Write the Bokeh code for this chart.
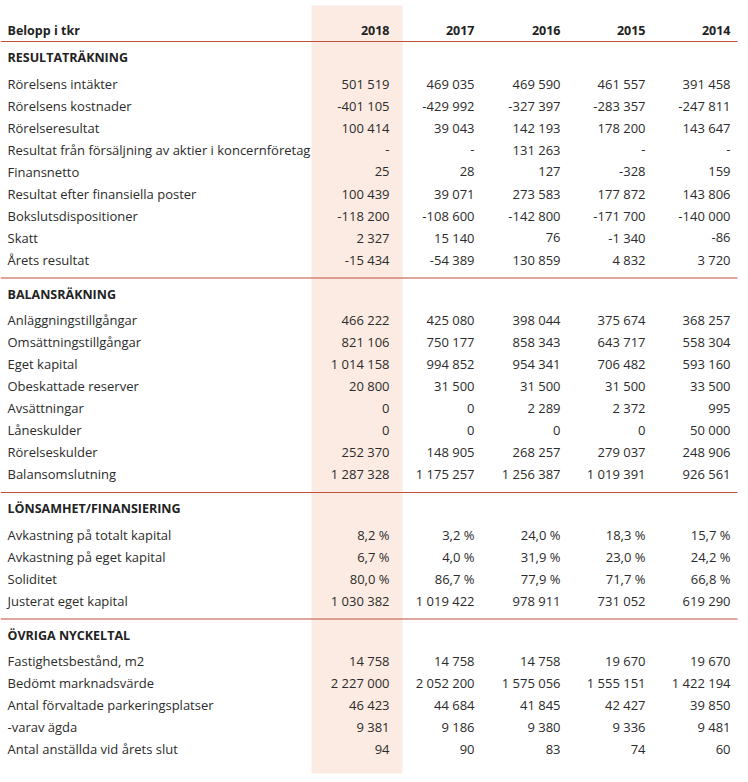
from bokeh.plotting import figure
from bokeh.models import Range1d
from bokeh.core.properties import value
from bokeh.embed import file_html
from bokeh.resources import INLINE

years = ["2018", "2017", "2016", "2015", "2014"]
header_label = "Belopp i tkr"

sec1_title = "RESULTATRÄKNING"
sec1_labels = ["Rörelsens intäkter", "Rörelsens kostnader", "Rörelseresultat",
               "Resultat från försäljning av aktier i koncernföretag", "Finansnetto",
               "Resultat efter finansiella poster", "Bokslutsdispositioner", "Skatt",
               "Årets resultat"]
sec1_2018 = [501519, -401105, 100414, None, 25, 100439, -118200, 2327, -15434]
sec1_2017 = [469035, -429992, 39043, None, 28, 39071, -108600, 15140, -54389]
sec1_2016 = [469590, -327397, 142193, 131263, 127, 273583, -142800, 76, 130859]
sec1_2015 = [461557, -283357, 178200, None, -328, 177872, -171700, -1340, 4832]
sec1_2014 = [391458, -247811, 143647, None, 159, 143806, -140000, -86, 3720]

sec2_title = "BALANSRÄKNING"
sec2_labels = ["Anläggningstillgångar", "Omsättningstillgångar", "Eget kapital",
               "Obeskattade reserver", "Avsättningar", "Låneskulder", "Rörelseskulder",
               "Balansomslutning"]
sec2_2018 = [466222, 821106, 1014158, 20800, 0, 0, 252370, 1287328]
sec2_2017 = [425080, 750177, 994852, 31500, 0, 0, 148905, 1175257]
sec2_2016 = [398044, 858343, 954341, 31500, 2289, 0, 268257, 1256387]
sec2_2015 = [375674, 643717, 706482, 31500, 2372, 0, 279037, 1019391]
sec2_2014 = [368257, 558304, 593160, 33500, 995, 50000, 248906, 926561]

sec3_title = "LÖNSAMHET/FINANSIERING"
sec3_labels = ["Avkastning på totalt kapital", "Avkastning på eget kapital", "Soliditet",
               "Justerat eget kapital"]
sec3_is_pct = [True, True, True, False]
sec3_2018 = [8.2, 6.7, 80.0, 1030382]
sec3_2017 = [3.2, 4.0, 86.7, 1019422]
sec3_2016 = [24.0, 31.9, 77.9, 978911]
sec3_2015 = [18.3, 23.0, 71.7, 731052]
sec3_2014 = [15.7, 24.2, 66.8, 619290]

sec4_title = "ÖVRIGA NYCKELTAL"
sec4_labels = ["Fastighetsbestånd, m2", "Bedömt marknadsvärde",
               "Antal förvaltade parkeringsplatser", "-varav ägda",
               "Antal anställda vid årets slut"]
sec4_2018 = [14758, 2227000, 46423, 9381, 94]
sec4_2017 = [14758, 2052200, 44684, 9186, 90]
sec4_2016 = [14758, 1575056, 41845, 9380, 83]
sec4_2015 = [19670, 1555151, 42427, 9336, 74]
sec4_2014 = [19670, 1422194, 39850, 9481, 60]


def fmt(v, pct=False):
    if v is None:
        return "-"
    if pct:
        return f"{v:.1f}".replace(".", ",") + " %"
    s = f"{abs(int(v)):,}".replace(",", " ")
    return ("-" if v < 0 else "") + s


sections = [
    (sec1_title, sec1_labels, [sec1_2018, sec1_2017, sec1_2016, sec1_2015, sec1_2014], [False] * 9),
    (sec2_title, sec2_labels, [sec2_2018, sec2_2017, sec2_2016, sec2_2015, sec2_2014], [False] * 8),
    (sec3_title, sec3_labels, [sec3_2018, sec3_2017, sec3_2016, sec3_2015, sec3_2014], sec3_is_pct),
    (sec4_title, sec4_labels, [sec4_2018, sec4_2017, sec4_2016, sec4_2015, sec4_2014], [False] * 5),
]

# layout (pixel coordinates)
W, H = 740, 774
X0, Y0 = 0, 0
label_x = 7
col_right = [389, 474, 560, 645, 730]
header_y = 30
row_step = 22
line_x0, line_x1 = 0, 737
FONT = "Open Sans"
TXT = "#2b2b2b"
RED = "#c0503a"
SHADE = "#fcebe2"

p = figure(width=W, height=H, output_backend="svg", toolbar_location=None,
           x_range=Range1d(X0, X0 + W), y_range=Range1d(Y0 + H, Y0),
           min_border=0, outline_line_color=None)
p.axis.visible = False
p.grid.visible = False
p.background_fill_color = "white"
p.border_fill_color = "white"

# highlighted 2018 column
p.quad(left=[311], right=[402], top=[5], bottom=[773], fill_color=SHADE, line_color=None)

lab_x, lab_y, lab_t = [], [], []
tit_x, tit_y, tit_t = [], [], []
num_x, num_y, num_t = [], [], []
line_ys = []

# header
tit_x.append(label_x); tit_y.append(header_y); tit_t.append(header_label)
hdr_x = list(col_right)
hdr_y = [header_y] * len(years)
line_y = 41
line_ys.append(line_y)

for title, labels, cols, pcts in sections:
    ty = line_y + 16
    tit_x.append(label_x); tit_y.append(ty); tit_t.append(title)
    for i, lab in enumerate(labels):
        y = ty + 26 + row_step * i
        lab_x.append(label_x); lab_y.append(y); lab_t.append(lab)
        for c, col in enumerate(cols):
            num_x.append(col_right[c]); num_y.append(y); num_t.append(fmt(col[i], pcts[i]))
    last = ty + 26 + row_step * (len(labels) - 1)
    line_y = last + 18.5
    if title != sec4_title:
        line_ys.append(line_y)

p.segment(x0=[line_x0] * len(line_ys), x1=[line_x1] * len(line_ys), y0=line_ys, y1=line_ys,
          line_color=RED, line_width=1.2)

p.text(x=lab_x, y=lab_y, text=lab_t, text_font=value(FONT), text_font_size="13px",
       text_color=TXT, text_align="left", text_baseline="middle")
p.text(x=tit_x, y=tit_y, text=tit_t, text_font=value(FONT), text_font_size="12.5px",
       text_font_style="bold", text_color="#222222", text_align="left", text_baseline="middle")
p.text(x=hdr_x, y=hdr_y, text=years, text_font=value(FONT), text_font_size="12.5px",
       text_font_style="bold", text_color="#222222", text_align="right", text_baseline="middle")
p.text(x=num_x, y=num_y, text=num_t, text_font=value(FONT), text_font_size="13px",
       text_color=TXT, text_align="right", text_baseline="middle")

open("out.html", "w").write(file_html(p, INLINE))
